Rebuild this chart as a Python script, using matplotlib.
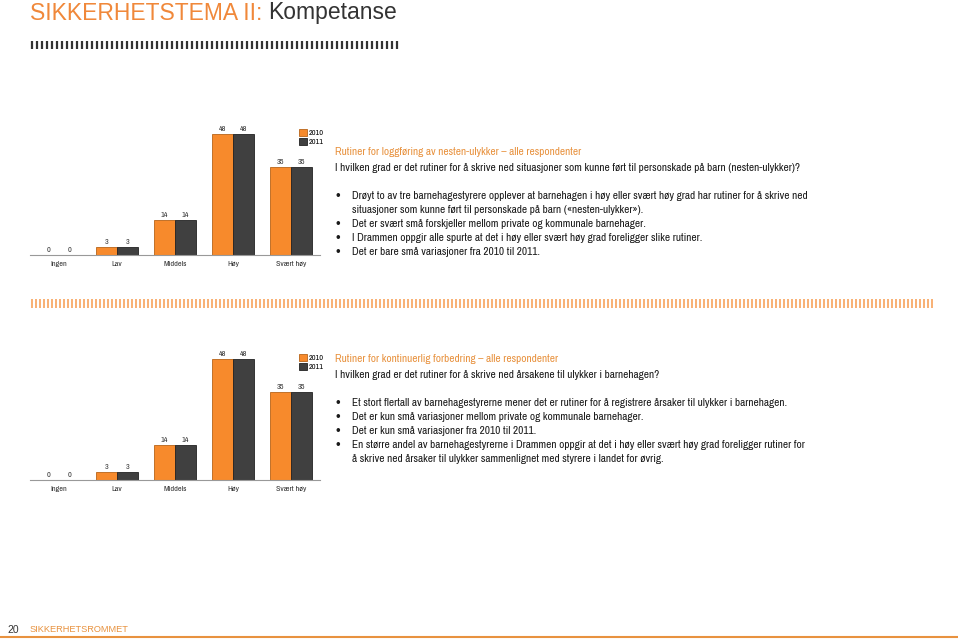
import numpy as np
import matplotlib.pyplot as plt
from matplotlib import font_manager

W, H = 960, 640

categories = ["Ingen", "Lav", "Middels", "Høy", "Svært høy"]
years = ["2010", "2011"]

# chart 1: nesten-ulykker
chart1_2010 = [0, 3, 14, 48, 35]
chart1_2011 = [0, 3, 14, 48, 35]
# chart 2: kontinuerlig forbedring
chart2_2010 = [0, 3, 14, 48, 35]
chart2_2011 = [0, 3, 14, 48, 35]

orange = "#F78A2C"
dark = "#404040"
title_orange = "#F0883A"
sub_orange = "#E8923F"

installed = sorted({f.name for f in font_manager.fontManager.ttflist})
narrow = [n for n in installed if "Narrow" in n or "Condensed" in n]
body_font = narrow[0] if narrow else "Roboto"
plt.rcParams["font.family"] = ["Liberation Sans", "DejaVu Sans"]

fig = plt.figure(figsize=(9.6, 6.4), dpi=100)
renderer = fig.canvas.get_renderer()


def fx(x):
    return x / W


def fy(y):
    return 1 - y / H


def box(x0, y0, x1, y1):
    return [fx(x0), fy(y1), (x1 - x0) / W, (y1 - y0) / H]


def width_px(t):
    return t.get_window_extent(renderer).width


# overlay for decorations in pixel coordinates
deco = fig.add_axes([0, 0, 1, 1])
deco.set_xlim(0, W)
deco.set_ylim(H, 0)
deco.axis("off")

# page title
t1 = fig.text(fx(30), fy(13), "SIKKERHETSTEMA II:", color=title_orange, fontsize=16, va="center")
t1.set_fontsize(16 * 233 / width_px(t1))
fig.text(fx(30 + width_px(t1) + 6), fy(13), "Kompetanse", color="#333333",
         fontsize=t1.get_fontsize(), va="center")

# dashed header rows (integer pixel spacing to avoid aliasing)
top_x = np.arange(31.5, 398, 5)
deco.vlines(top_x, 41, 49, color="#333333", lw=1.6)
mid_x = np.arange(31.5, 933, 4)
deco.vlines(mid_x, 299, 308, color="#F7A35C", lw=1.2)

# footer
fig.text(fx(7), fy(630), "20", color="#333333", fontsize=7.5, va="center")
fig.text(fx(30), fy(630), "SIKKERHETSROMMET", color=sub_orange, fontsize=6.7, va="center")
deco.hlines(637, 0, 958, color=sub_orange, lw=1.5)


def bar_chart(rect, v2010, v2011):
    ax = fig.add_axes(rect)
    x = np.arange(len(categories))
    w = 0.36
    b1 = ax.bar(x - w / 2, v2010, w, color=orange, edgecolor="#B86418", lw=0.6, label=years[0])
    b2 = ax.bar(x + w / 2, v2011, w, color=dark, edgecolor="#222222", lw=0.6, label=years[1])
    for bars in (b1, b2):
        for r in bars:
            ax.text(r.get_x() + r.get_width() / 2, r.get_height() + 0.8, f"{r.get_height():g}",
                    ha="center", va="bottom", fontsize=5.8, color="#333333", family=body_font)
    ax.set_xlim(-0.5, 4.5)
    ax.set_ylim(0, 53.6)
    ax.set_xticks(x)
    ax.set_xticklabels(categories, fontsize=5.8, color="#333333", family=body_font)
    ax.tick_params(axis="x", length=0, pad=4)
    ax.set_yticks([])
    for s in ("top", "right", "left"):
        ax.spines[s].set_visible(False)
    ax.spines["bottom"].set_color("#999999")
    ax.spines["bottom"].set_linewidth(0.8)
    ax.legend(loc="upper left", bbox_to_anchor=(0.915, 0.96), frameon=False,
              prop={"size": 5.8, "family": body_font}, handlelength=1.0, handleheight=1.0,
              handletextpad=0.3, labelspacing=0.25, borderaxespad=0)
    return ax


bar_chart(box(30, 120, 320, 255), chart1_2010, chart1_2011)
bar_chart(box(30, 345, 320, 480), chart2_2010, chart2_2011)

q1 = "I hvilken grad er det rutiner for å skrive ned situasjoner som kunne ført til personskade på barn (nesten-ulykker)?"
probe = fig.text(0, 0, q1, fontsize=10, family=body_font)
fs = 10 * 465 / width_px(probe)
probe.remove()
lh = 14


def text_block(y_title, title, question, bullets):
    fig.text(fx(335), fy(y_title), title, color=sub_orange, fontsize=fs, va="center", family=body_font)
    fig.text(fx(335), fy(y_title + 16), question, color="#1a1a1a", fontsize=fs, va="center",
             family=body_font)
    y = y_title + 44
    for lines in bullets:
        fig.text(fx(336), fy(y), "•", color="#1a1a1a", fontsize=fs * 1.2, va="center")
        for ln in lines:
            fig.text(fx(352), fy(y), ln, color="#1a1a1a", fontsize=fs, va="center", family=body_font)
            y += lh


text_block(
    152,
    "Rutiner for loggføring av nesten-ulykker – alle respondenter",
    q1,
    [
        ["Drøyt to av tre barnehagestyrere opplever at barnehagen i høy eller svært høy grad har rutiner for å skrive ned",
         "situasjoner som kunne ført til personskade på barn («nesten-ulykker»)."],
        ["Det er svært små forskjeller mellom private og kommunale barnehager."],
        ["I Drammen oppgir alle spurte at det i høy eller svært høy grad foreligger slike rutiner."],
        ["Det er bare små variasjoner fra 2010 til 2011."],
    ],
)

text_block(
    359,
    "Rutiner for kontinuerlig forbedring – alle respondenter",
    "I hvilken grad er det rutiner for å skrive ned årsakene til ulykker i barnehagen?",
    [
        ["Et stort flertall av barnehagestyrerne mener det er rutiner for å registrere årsaker til ulykker i barnehagen."],
        ["Det er kun små variasjoner mellom private og kommunale barnehager."],
        ["Det er kun små variasjoner fra 2010 til 2011."],
        ["En større andel av barnehagestyrerne i Drammen oppgir at det i høy eller svært høy grad foreligger rutiner for",
         "å skrive ned årsaker til ulykker sammenlignet med styrere i landet for øvrig."],
    ],
)

fig.savefig("out.png", dpi=100)
